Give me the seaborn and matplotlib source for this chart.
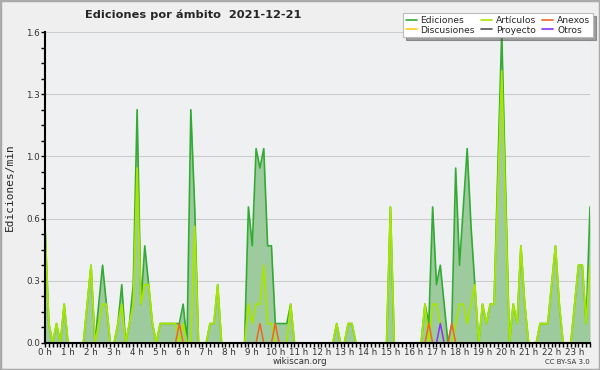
import numpy as np
import pandas as pd
import seaborn as sns
import matplotlib
import matplotlib.pyplot as plt
from matplotlib.patches import Rectangle
from matplotlib.lines import Line2D

matplotlib.use("Agg")

# edits per minute, one value per 10 minutes (00:00 .. 23:40)
ediciones = [
    0.6, 0.1, 0.0, 0.1, 0.0, 0.2, 0.0, 0.0, 0.0, 0.0, 0.0, 0.2,   # 0h-2h
    0.4, 0.0, 0.2, 0.4, 0.2, 0.0, 0.0, 0.1, 0.3, 0.0, 0.1, 0.3,   # 2h-4h
    1.2, 0.2, 0.5, 0.3, 0.1, 0.0, 0.1, 0.1, 0.1, 0.1, 0.1, 0.1,   # 4h-6h
    0.2, 0.0, 1.2, 0.7, 0.0, 0.0, 0.0, 0.1, 0.1, 0.3, 0.0, 0.0,   # 6h-8h
    0.0, 0.0, 0.0, 0.0, 0.0, 0.7, 0.5, 1.0, 0.9, 1.0, 0.5, 0.5,   # 8h-10h
    0.1, 0.1, 0.1, 0.1, 0.2, 0.0, 0.0, 0.0, 0.0, 0.0, 0.0, 0.0,   # 10h-12h
    0.0, 0.0, 0.0, 0.0, 0.1, 0.0, 0.0, 0.1, 0.1, 0.0, 0.0, 0.0,   # 12h-14h
    0.0, 0.0, 0.0, 0.0, 0.0, 0.0, 0.7, 0.0, 0.0, 0.0, 0.0, 0.0,   # 14h-16h
    0.0, 0.0, 0.0, 0.2, 0.1, 0.7, 0.3, 0.4, 0.2, 0.0, 0.1, 0.9,   # 16h-18h
    0.4, 0.7, 1.0, 0.6, 0.3, 0.0, 0.2, 0.1, 0.2, 0.2, 0.9, 1.6,   # 18h-20h
    0.8, 0.0, 0.2, 0.1, 0.5, 0.2, 0.0, 0.0, 0.0, 0.1, 0.1, 0.1,   # 20h-22h
    0.3, 0.5, 0.2, 0.0, 0.0, 0.0, 0.2, 0.4, 0.4, 0.1, 0.7,        # 22h-23h40
]
articulos = [
    0.6, 0.1, 0.0, 0.1, 0.0, 0.2, 0.0, 0.0, 0.0, 0.0, 0.0, 0.2,
    0.4, 0.0, 0.1, 0.2, 0.2, 0.0, 0.0, 0.1, 0.2, 0.0, 0.1, 0.2,
    0.9, 0.2, 0.3, 0.3, 0.1, 0.0, 0.1, 0.1, 0.1, 0.1, 0.1, 0.0,
    0.1, 0.0, 0.0, 0.6, 0.0, 0.0, 0.0, 0.1, 0.1, 0.3, 0.0, 0.0,
    0.0, 0.0, 0.0, 0.0, 0.0, 0.2, 0.1, 0.2, 0.2, 0.4, 0.1, 0.1,
    0.0, 0.0, 0.0, 0.0, 0.2, 0.0, 0.0, 0.0, 0.0, 0.0, 0.0, 0.0,
    0.0, 0.0, 0.0, 0.0, 0.1, 0.0, 0.0, 0.1, 0.1, 0.0, 0.0, 0.0,
    0.0, 0.0, 0.0, 0.0, 0.0, 0.0, 0.7, 0.0, 0.0, 0.0, 0.0, 0.0,
    0.0, 0.0, 0.0, 0.2, 0.0, 0.2, 0.2, 0.1, 0.0, 0.0, 0.0, 0.1,
    0.2, 0.2, 0.1, 0.2, 0.3, 0.0, 0.2, 0.1, 0.2, 0.2, 0.8, 1.4,
    0.7, 0.0, 0.2, 0.1, 0.5, 0.2, 0.0, 0.0, 0.0, 0.1, 0.1, 0.1,
    0.3, 0.5, 0.2, 0.0, 0.0, 0.0, 0.2, 0.4, 0.4, 0.1, 0.4,
]
# sparse series: (10-minute bin, value)
anexos_bins = [35, 56, 60, 100, 106]
anexos_vals = [0.1, 0.1, 0.1, 0.1, 0.1]
otros_bins = [103]
otros_vals = [0.1]

series_names = ["Ediciones", "Artículos", "Anexos", "Discusiones", "Proyecto", "Otros"]
series_colors = ["#33aa33", "#a6e600", "#ee6622", "#ffcc22", "#555555", "#8833ff"]

yticks = [0.0, 0.32, 0.64, 0.96, 1.28, 1.6]
ytick_labels = ["0.0", "0.3", "0.6", "1.0", "1.3", "1.6"]
hour_labels = [f"{h} h" for h in range(24)]

n = len(ediciones)
hours = np.arange(n) / 6.0
anexos = np.zeros(n)
anexos[anexos_bins] = anexos_vals
otros = np.zeros(n)
otros[otros_bins] = otros_vals

df = pd.DataFrame({"hora": hours, "Ediciones": ediciones, "Artículos": articulos,
                   "Anexos": anexos, "Otros": otros})

sns.set_theme(style="white")
plt.rcParams['font.family'] = ['DejaVu Sans']

fig = plt.figure(figsize=(6, 3.7), dpi=100, facecolor="#efefef")
ax = fig.add_axes([45 / 600, 27 / 370, 545 / 600, 311 / 370])
ax.set_facecolor("#eef0f2")

ax.fill_between(df["hora"], df["Ediciones"], color="#9dcb9d", linewidth=0, zorder=2)
sns.lineplot(data=df, x="hora", y="Ediciones", ax=ax, color=series_colors[0], linewidth=1.2, zorder=3)
sns.lineplot(data=df, x="hora", y="Artículos", ax=ax, color=series_colors[1], linewidth=1.3, zorder=4)
sns.lineplot(data=df, x="hora", y="Anexos", ax=ax, color=series_colors[2], linewidth=1.1, zorder=5)
sns.lineplot(data=df, x="hora", y="Otros", ax=ax, color=series_colors[5], linewidth=1.1, zorder=5)

ax.set_xlim(0, hours[-1])
ax.set_ylim(0, 1.6)
ax.set_xticks(range(24))
ax.set_xticklabels(hour_labels)
ax.set_xticks(np.arange(0, hours[-1] + 0.01, 1 / 6), minor=True)
ax.set_yticks(yticks)
ax.set_yticklabels(ytick_labels)
ax.set_yticks(np.arange(0, 1.61, 0.08), minor=True)
ax.tick_params(axis="both", which="major", direction="out", length=3, width=1,
               labelsize=6.3, labelcolor="#333333", color="black", pad=0.5)
ax.tick_params(axis="both", which="minor", direction="out", length=3, width=1, color="black")
ax.tick_params(axis="x", which="both", bottom=True)
ax.tick_params(axis="y", which="both", left=True)
ax.grid(axis="y", which="major", color="#cccccc", linewidth=0.8)
ax.set_axisbelow(True)
for side in ["top", "right"]:
    ax.spines[side].set_visible(False)
for side in ["left", "bottom"]:
    ax.spines[side].set_color("black")
    ax.spines[side].set_linewidth(1.5)
    ax.spines[side].set_zorder(10)
ax.set_xlabel("")
ax.set_ylabel("Ediciones/min", fontsize=8, family="DejaVu Sans Mono", labelpad=8)

fig.text(85 / 600, 1 - 15 / 370, "Ediciones por ámbito  2021-12-21", fontsize=8.2,
         fontweight="bold", ha="left", va="center")
fig.text(300 / 600, 1 - 362 / 370, "wikiscan.org", fontsize=6.3, color="#333333",
         ha="center", va="center")
fig.text(590 / 600, 1 - 362 / 370, "CC BY-SA 3.0", fontsize=5, color="#333333",
         ha="right", va="center")

handles = [Line2D([], [], color=c, linewidth=1.2) for c in series_colors]
order = [0, 3, 1, 4, 2, 5]
leg = fig.legend([handles[i] for i in order], [series_names[i] for i in order],
                 ncol=3, loc="upper right", bbox_to_anchor=(593 / 600, 1 - 13 / 370),
                 fontsize=6.6, frameon=True, fancybox=False, shadow=True,
                 handlelength=1.2, handletextpad=0.4, columnspacing=0.7,
                 labelspacing=0.1, borderpad=0.3, borderaxespad=0)
leg.get_frame().set_facecolor("white")
leg.get_frame().set_edgecolor("#bbbbbb")
leg.get_frame().set_linewidth(0.8)

fig.patches.append(Rectangle((0, 0), 1, 1, transform=fig.transFigure, fill=False,
                             edgecolor="#aaaaaa", linewidth=2.5))

fig.savefig("out.png", dpi=100, facecolor=fig.get_facecolor())
